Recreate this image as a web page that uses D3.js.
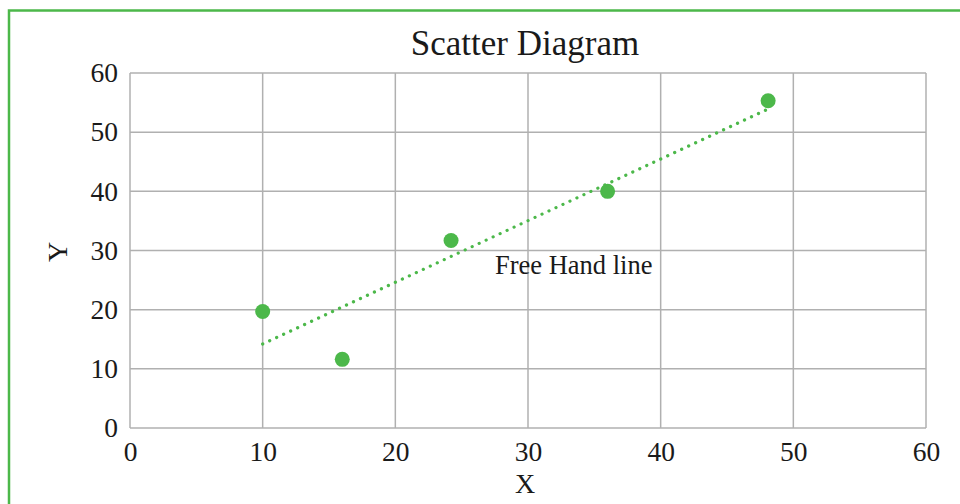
<!DOCTYPE html>
<html><head><meta charset="utf-8">
<script src="https://cdn.jsdelivr.net/npm/d3@7"></script>
<style>html,body{margin:0;padding:0;background:#fff;}svg{display:block;}</style>
</head><body>
<script>
const xValues = [10, 16, 24.2, 36, 48.1];
const yValues = [19.7, 11.6, 31.7, 40.0, 55.3];
const trendX = [10, 48];
const trendY = [14.2, 53.8];
const xTicks = [0, 10, 20, 30, 40, 50, 60];
const yTicks = [0, 10, 20, 30, 40, 50, 60];
const title = "Scatter Diagram";
const xTitle = "X";
const yTitle = "Y";
const annotation = "Free Hand line";

const W = 960, H = 504;
const green = "#4cb84a";
const font = "'Liberation Serif', 'Times New Roman', serif";
const svg = d3.select("body").append("svg").attr("width", W).attr("height", H);

svg.append("rect").attr("x", 9).attr("y", 10.5).attr("width", W).attr("height", H)
  .attr("fill", "none").attr("stroke", green).attr("stroke-width", 2.5);

const m = {l: 130, r: 926, t: 73, b: 428};
const x = d3.scaleLinear().domain([0, 60]).range([m.l, m.r]);
const y = d3.scaleLinear().domain([0, 60]).range([m.b, m.t]);

// grid
svg.append("g").selectAll("line").data(xTicks).join("line")
  .attr("x1", d => x(d)).attr("x2", d => x(d)).attr("y1", m.t).attr("y2", m.b)
  .attr("stroke", "#b0b0b0").attr("stroke-width", 1.5);
svg.append("g").selectAll("line").data(yTicks).join("line")
  .attr("y1", d => y(d)).attr("y2", d => y(d)).attr("x1", m.l).attr("x2", m.r)
  .attr("stroke", "#b0b0b0").attr("stroke-width", 1.5);

// axes labels via d3 axes
const xAxis = svg.append("g").attr("transform", `translate(0,${m.b})`)
  .call(d3.axisBottom(x).tickValues(xTicks).tickSize(0).tickPadding(13));
const yAxis = svg.append("g").attr("transform", `translate(${m.l},0)`)
  .call(d3.axisLeft(y).tickValues(yTicks).tickSize(0).tickPadding(12));
[xAxis, yAxis].forEach(a => {
  a.select(".domain").remove();
  a.selectAll("text").attr("font-family", font).attr("font-size", 27.5).attr("fill", "#1a1a1a");
});

// trend line
const line = d3.line().x(d => x(d[0])).y(d => y(d[1]));
svg.append("path").datum(trendX.map((v, i) => [v, trendY[i]]))
  .attr("d", line).attr("fill", "none").attr("stroke", green)
  .attr("stroke-width", 3.2).attr("stroke-linecap", "round").attr("stroke-dasharray", "0.1 7.6");

// points
svg.append("g").selectAll("circle").data(xValues.map((v, i) => [v, yValues[i]])).join("circle")
  .attr("cx", d => x(d[0])).attr("cy", d => y(d[1])).attr("r", 7.5).attr("fill", green);

svg.append("text").attr("x", 525).attr("y", 55).attr("text-anchor", "middle")
  .attr("font-family", font).attr("font-size", 35).attr("fill", "#1a1a1a").text(title);
svg.append("text").attr("x", 525).attr("y", 493).attr("text-anchor", "middle")
  .attr("font-family", font).attr("font-size", 28).attr("fill", "#1a1a1a").text(xTitle);
svg.append("text").attr("transform", "translate(67,252) rotate(-90)").attr("text-anchor", "middle")
  .attr("font-family", font).attr("font-size", 28).attr("fill", "#1a1a1a").text(yTitle);
svg.append("text").attr("x", 495).attr("y", 274)
  .attr("font-family", font).attr("font-size", 26.5).attr("fill", "#1a1a1a").text(annotation);
</script>
</body></html>
